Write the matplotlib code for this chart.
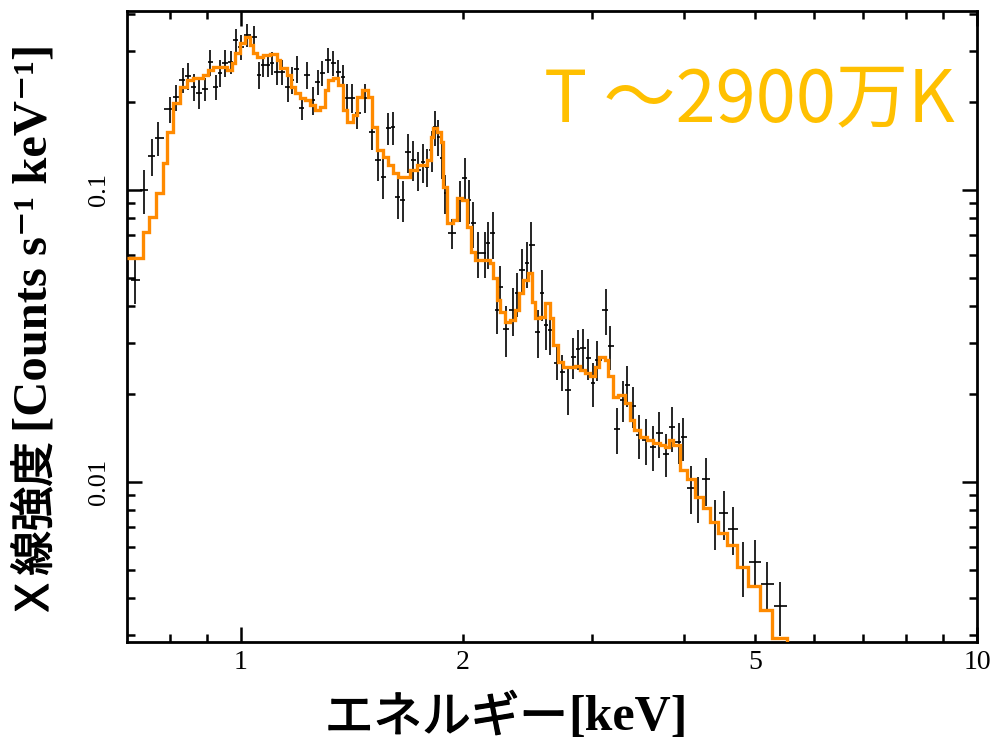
import numpy as np
import matplotlib
matplotlib.use("Agg")
import matplotlib.pyplot as plt
import matplotlib.patheffects as pe
from matplotlib.ticker import FixedLocator, FuncFormatter, NullFormatter

plt.rcParams['font.family'] = ['Liberation Serif', 'DejaVu Serif', 'Noto Sans CJK JP']

# observed spectrum: bin centre energy [keV], rate, 1-sigma error
energy = [0.718, 0.738, 0.757, 0.771, 0.801, 0.816, 0.834, 0.847, 0.863, 0.877,
          0.894, 0.908, 0.925, 0.936, 0.951, 0.969, 0.984, 1.000, 1.019, 1.042,
          1.058, 1.071, 1.088, 1.102, 1.119, 1.137, 1.158, 1.173, 1.191, 1.210,
          1.229, 1.252, 1.272, 1.288, 1.313, 1.334, 1.355, 1.376, 1.393, 1.415,
          1.438, 1.474, 1.507, 1.535, 1.560, 1.584, 1.609, 1.634, 1.660, 1.686,
          1.713, 1.740, 1.767, 1.789, 1.817, 1.835, 1.852, 1.876, 1.893, 1.935,
          1.984, 2.015, 2.041, 2.067, 2.099, 2.145, 2.165, 2.200, 2.228, 2.249,
          2.290, 2.342, 2.371, 2.409, 2.447, 2.478, 2.532, 2.564, 2.597, 2.630,
          2.688, 2.730, 2.782, 2.826, 2.870, 2.915, 2.962, 3.008, 3.046, 3.133,
          3.172, 3.243, 3.304, 3.345, 3.409, 3.473, 3.550, 3.630, 3.699, 3.780,
          3.851, 3.936, 3.986, 4.088, 4.178, 4.283, 4.406, 4.531, 4.660, 4.808,
          4.998, 5.186, 5.400]
rate = [0.0492, 0.100, 0.131, 0.151, 0.189, 0.208, 0.238, 0.246, 0.225, 0.215,
        0.222, 0.274, 0.225, 0.252, 0.272, 0.274, 0.327, 0.309, 0.340, 0.334,
        0.248, 0.268, 0.268, 0.272, 0.254, 0.254, 0.225, 0.238, 0.260, 0.191,
        0.248, 0.203, 0.234, 0.252, 0.279, 0.272, 0.254, 0.244, 0.207, 0.207,
        0.184, 0.207, 0.158, 0.127, 0.111, 0.163, 0.164, 0.0946, 0.0924, 0.135,
        0.127, 0.117, 0.125, 0.120, 0.137, 0.164, 0.152, 0.129, 0.0977, 0.0712,
        0.0924, 0.110, 0.0924, 0.0771, 0.0608, 0.0608, 0.0658, 0.0712, 0.0388, 0.0465,
        0.0334, 0.0388, 0.0444, 0.0532, 0.0562, 0.0648, 0.0327, 0.0444, 0.0345, 0.0332,
        0.0256, 0.0238, 0.0207, 0.0268, 0.0286, 0.0288, 0.0266, 0.0218, 0.0262, 0.0388,
        0.0292, 0.0152, 0.0191, 0.0215, 0.0182, 0.0145, 0.0139, 0.0132, 0.0147, 0.0125,
        0.0154, 0.0137, 0.0142, 0.00954, 0.00882, 0.0102, 0.00724, 0.00783, 0.0069, 0.00512,
        0.00532, 0.00447, 0.00376]
rate_err = [0.0084, 0.017, 0.019, 0.020, 0.019, 0.021, 0.024, 0.026, 0.024, 0.026,
            0.020, 0.028, 0.022, 0.027, 0.029, 0.024, 0.030, 0.030, 0.031, 0.030,
            0.027, 0.025, 0.025, 0.025, 0.025, 0.025, 0.025, 0.025, 0.027, 0.017,
            0.026, 0.022, 0.023, 0.025, 0.027, 0.027, 0.025, 0.024, 0.024, 0.024,
            0.022, 0.023, 0.021, 0.020, 0.018, 0.021, 0.021, 0.015, 0.015, 0.021,
            0.020, 0.018, 0.019, 0.018, 0.022, 0.023, 0.021, 0.020, 0.015, 0.0085,
            0.015, 0.019, 0.016, 0.014, 0.011, 0.011, 0.012, 0.013, 0.0066, 0.0083,
            0.0066, 0.0072, 0.0077, 0.0095, 0.010, 0.013, 0.0062, 0.0087, 0.0061, 0.0059,
            0.0033, 0.0033, 0.0037, 0.0042, 0.0045, 0.0045, 0.0042, 0.0037, 0.0041, 0.0069,
            0.0050, 0.0027, 0.0030, 0.0034, 0.0029, 0.0025, 0.0025, 0.0023, 0.0026, 0.0021,
            0.0027, 0.0022, 0.0024, 0.0018, 0.0016, 0.0019, 0.0014, 0.0015, 0.0013, 0.0011,
            0.0010, 0.00085, 0.0008]

# best-fit thermal model, binned
model_edges = [0.700, 0.736, 0.750, 0.767, 0.783, 0.793, 0.809, 0.826, 0.845, 0.861,
               0.888, 0.902, 0.916, 0.957, 0.972, 0.981, 0.997, 1.013, 1.028, 1.038,
               1.051, 1.071, 1.095, 1.119, 1.130, 1.155, 1.169, 1.184, 1.203, 1.222,
               1.241, 1.260, 1.280, 1.300, 1.313, 1.334, 1.355, 1.376, 1.393, 1.420,
               1.438, 1.460, 1.488, 1.507, 1.530, 1.560, 1.584, 1.609, 1.634, 1.697,
               1.734, 1.789, 1.812, 1.823, 1.846, 1.869, 1.881, 1.905, 1.941, 1.966,
               1.997, 2.028, 2.053, 2.079, 2.179, 2.200, 2.228, 2.249, 2.285, 2.321,
               2.357, 2.387, 2.416, 2.455, 2.485, 2.509, 2.549, 2.588, 2.630, 2.654,
               2.696, 2.738, 2.843, 2.887, 2.933, 2.980, 3.027, 3.065, 3.122, 3.151,
               3.201, 3.252, 3.324, 3.377, 3.420, 3.485, 3.562, 3.630, 3.710, 3.769,
               3.816, 3.864, 3.950, 4.036, 4.139, 4.244, 4.338, 4.448, 4.575, 4.720,
               4.886, 5.072, 5.266, 5.518, 5.600]
model_rate = [0.0585, 0.0718, 0.0808, 0.0977, 0.124, 0.158, 0.199, 0.225, 0.238, 0.242,
              0.248, 0.258, 0.264, 0.258, 0.272, 0.295, 0.319, 0.334, 0.314, 0.295,
              0.285, 0.290, 0.292, 0.279, 0.262, 0.248, 0.225, 0.215, 0.207, 0.203,
              0.196, 0.188, 0.192, 0.220, 0.238, 0.242, 0.229, 0.188, 0.171, 0.181,
              0.208, 0.220, 0.208, 0.164, 0.137, 0.130, 0.122, 0.114, 0.111, 0.117,
              0.122, 0.127, 0.152, 0.163, 0.158, 0.146, 0.102, 0.0771, 0.0789, 0.0939,
              0.0924, 0.0747, 0.0613, 0.0576, 0.0562, 0.0500, 0.0420, 0.0382, 0.0353, 0.0359,
              0.0388, 0.0444, 0.0492, 0.0520, 0.0413, 0.0364, 0.0367, 0.0410, 0.0364, 0.0294,
              0.0258, 0.0248, 0.0250, 0.0242, 0.0236, 0.0231, 0.0248, 0.0268, 0.0262, 0.0231,
              0.0196, 0.0199, 0.0187, 0.0163, 0.0151, 0.0143, 0.0139, 0.0136, 0.0134, 0.0132,
              0.0139, 0.0134, 0.0110, 0.0102, 0.00888, 0.00815, 0.00729, 0.00669, 0.00608, 0.00512,
              0.00440, 0.00364, 0.00292, 0.0020]

x_major = [1, 10]
x_minor = [0.8, 0.9, 2, 3, 4, 5, 6, 7, 8, 9]
x_minor_labels = {2: '2', 5: '5'}
y_major = [0.001, 0.01, 0.1]
y_major_labels = {0.01: '0.01', 0.1: '0.1'}

# channel widths: bins touch halfway (in log) between neighbouring centres
e = np.array(energy)
mid = np.sqrt(e[1:] * e[:-1])
lo = np.concatenate([[e[0] ** 2 / mid[0]], mid])
hi = np.concatenate([mid, [e[-1] ** 2 / mid[-1]]])
xerr = np.vstack([e - lo, hi - e])

fig = plt.figure(figsize=(9.9, 7.44), dpi=100)
ax = fig.add_axes([127 / 990, 1 - 642 / 744, 850 / 990, 631 / 744])

ax.errorbar(energy, rate, xerr=xerr, yerr=rate_err, fmt='none',
            ecolor='black', elinewidth=1.2, capsize=0, zorder=2)
ax.stairs(model_rate, model_edges, color='#ff8a00', linewidth=2.4,
          baseline=None, zorder=3)

ax.set_xscale('log')
ax.set_yscale('log')
ax.set_xlim(0.7, 10)
ax.set_ylim(0.00283, 0.41)

ax.xaxis.set_major_locator(FixedLocator(x_major))
ax.xaxis.set_minor_locator(FixedLocator(x_minor))
ax.xaxis.set_major_formatter(FuncFormatter(lambda v, p: f'{v:g}'))
ax.xaxis.set_minor_formatter(FuncFormatter(
    lambda v, p: x_minor_labels.get(int(round(v)), '') if v >= 1 else ''))

y_minor = [m * d for d in (0.001, 0.01, 0.1) for m in range(2, 10)]
ax.yaxis.set_major_locator(FixedLocator(y_major))
ax.yaxis.set_minor_locator(FixedLocator(y_minor))
ax.yaxis.set_major_formatter(FuncFormatter(
    lambda v, p: y_major_labels.get(round(v, 4), '')))
ax.yaxis.set_minor_formatter(NullFormatter())

ax.tick_params(which='both', direction='in', top=True, right=True, width=1.8,
               colors='black')
ax.tick_params(which='major', length=11)
ax.tick_params(which='minor', length=6)
ax.tick_params(axis='x', which='both', labelsize=20, pad=6)
ax.tick_params(axis='y', which='both', labelsize=19, pad=12, labelrotation=90)
for lab in ax.get_yticklabels():
    lab.set_verticalalignment('center')
for s in ax.spines.values():
    s.set_linewidth(2.0)

# axis titles: Japanese part in the CJK sans, units in bold serif
thick = [pe.withStroke(linewidth=0.9, foreground='black')]
ysplit = 1 - 432 / 744
fig.text(35 / 990, ysplit, 'Ｘ線強度 ', rotation=90, ha='center', va='top',
         fontsize=32, family=['Noto Sans CJK JP'], path_effects=thick)
fig.text(35 / 990, ysplit, '[Counts s⁻¹ keV⁻¹]', rotation=90, ha='center',
         va='bottom', fontsize=35, fontweight='bold')
xsplit = 568 / 990
fig.text(xsplit, 1 - 718 / 744, 'エネルギー', ha='right', va='center',
         fontsize=35, family=['Noto Sans CJK JP'], path_effects=thick)
fig.text(xsplit, 1 - 718 / 744, '[keV]', ha='left', va='center',
         fontsize=36, fontweight='bold')

fig.text(955 / 990, 1 - 121 / 744, 'T ～2900万K', ha='right', va='baseline',
         fontsize=52, color='#ffc000', family=['Noto Sans CJK JP', 'DejaVu Sans'])

fig.savefig('out.png', dpi=100)
